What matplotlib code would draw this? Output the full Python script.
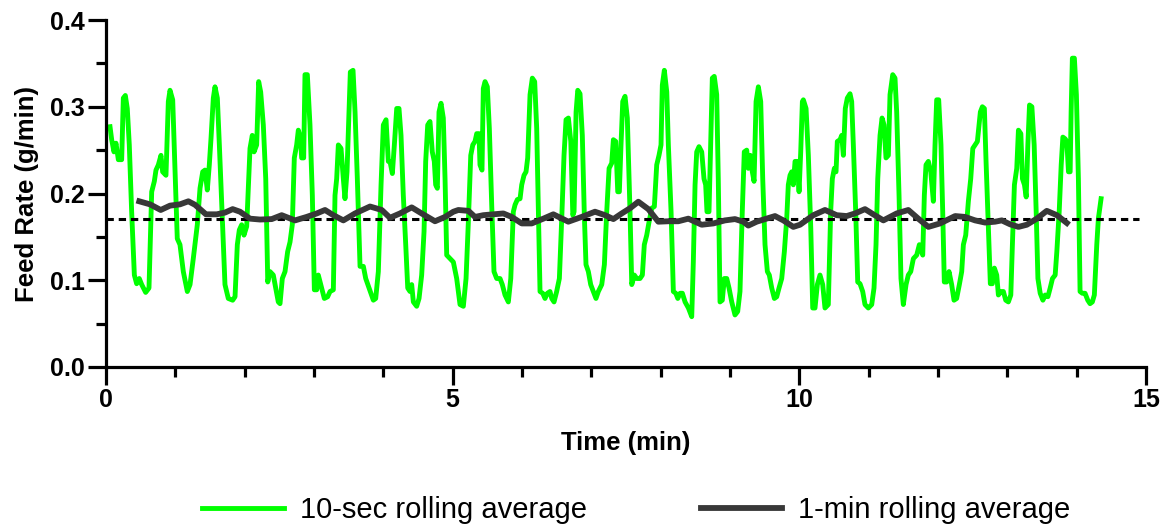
import numpy as np
import matplotlib
matplotlib.use('Agg')
import matplotlib.pyplot as plt

# 10-sec rolling average (time in min, feed rate in g/min)
t_10s = [0.058, 0.082, 0.115, 0.144, 0.178, 0.226, 0.250, 0.279, 0.307, 0.336,
         0.370, 0.409, 0.442, 0.480, 0.515, 0.572, 0.620, 0.659, 0.697, 0.721,
         0.755, 0.793, 0.817, 0.865, 0.899, 0.923, 0.962, 0.995, 1.028, 1.067,
         1.115, 1.173, 1.212, 1.259, 1.317, 1.356, 1.395, 1.428, 1.461, 1.490,
         1.515, 1.548, 1.572, 1.606, 1.635, 1.673, 1.716, 1.764, 1.827, 1.861,
         1.894, 1.923, 1.957, 1.990, 2.029, 2.077, 2.110, 2.135, 2.173, 2.202,
         2.231, 2.269, 2.304, 2.333, 2.365, 2.413, 2.485, 2.510, 2.543, 2.582,
         2.620, 2.654, 2.687, 2.716, 2.750, 2.774, 2.803, 2.822, 2.851, 2.870,
         2.904, 2.942, 2.976, 3.005, 3.039, 3.062, 3.111, 3.149, 3.197, 3.231,
         3.279, 3.303, 3.327, 3.351, 3.390, 3.423, 3.447, 3.476, 3.505, 3.524,
         3.563, 3.592, 3.625, 3.664, 3.712, 3.746, 3.794, 3.856, 3.890, 3.928,
         3.967, 4.000, 4.039, 4.072, 4.096, 4.130, 4.159, 4.193, 4.226, 4.255,
         4.288, 4.323, 4.352, 4.385, 4.409, 4.433, 4.481, 4.515, 4.553, 4.587,
         4.611, 4.640, 4.673, 4.706, 4.735, 4.755, 4.779, 4.803, 4.832, 4.865,
         4.890, 4.914, 4.962, 5.010, 5.058, 5.106, 5.154, 5.193, 5.226, 5.261,
         5.290, 5.322, 5.347, 5.380, 5.394, 5.423, 5.442, 5.467, 5.500, 5.529,
         5.563, 5.596, 5.635, 5.683, 5.716, 5.755, 5.803, 5.838, 5.875, 5.900,
         5.933, 5.972, 5.996, 6.029, 6.058, 6.082, 6.116, 6.149, 6.183, 6.212,
         6.236, 6.260, 6.299, 6.332, 6.366, 6.404, 6.429, 6.462, 6.500, 6.539,
         6.573, 6.606, 6.635, 6.669, 6.704, 6.733, 6.751, 6.780, 6.804, 6.837,
         6.870, 6.899, 6.923, 6.957, 6.991, 7.029, 7.067, 7.101, 7.150, 7.188,
         7.222, 7.256, 7.294, 7.318, 7.352, 7.381, 7.404, 7.428, 7.453, 7.486,
         7.519, 7.558, 7.583, 7.620, 7.655, 7.702, 7.736, 7.764, 7.799, 7.832,
         7.871, 7.909, 7.943, 7.976, 8.005, 8.024, 8.053, 8.088, 8.111, 8.150,
         8.183, 8.218, 8.247, 8.280, 8.313, 8.352, 8.400, 8.448, 8.471, 8.496,
         8.520, 8.553, 8.592, 8.625, 8.649, 8.668, 8.697, 8.721, 8.745, 8.773,
         8.808, 8.831, 8.856, 8.889, 8.918, 8.953, 8.986, 9.025, 9.072, 9.111,
         9.144, 9.177, 9.206, 9.241, 9.264, 9.293, 9.322, 9.347, 9.376, 9.409,
         9.443, 9.472, 9.505, 9.539, 9.567, 9.602, 9.640, 9.674, 9.707, 9.746,
         9.784, 9.818, 9.841, 9.866, 9.890, 9.913, 9.938, 9.971, 9.996, 10.020,
         10.044, 10.058, 10.097, 10.130, 10.165, 10.193, 10.226, 10.260, 10.298, 10.337,
         10.370, 10.418, 10.452, 10.476, 10.505, 10.529, 10.548, 10.587, 10.611, 10.635,
         10.663, 10.692, 10.731, 10.755, 10.779, 10.813, 10.842, 10.875, 10.914, 10.947,
         10.995, 11.044, 11.077, 11.106, 11.131, 11.164, 11.193, 11.222, 11.250, 11.284,
         11.308, 11.347, 11.380, 11.404, 11.438, 11.466, 11.500, 11.539, 11.572, 11.607,
         11.645, 11.693, 11.731, 11.780, 11.803, 11.827, 11.861, 11.896, 11.933, 11.957,
         11.981, 12.010, 12.043, 12.068, 12.091, 12.125, 12.159, 12.197, 12.231, 12.269,
         12.308, 12.342, 12.366, 12.400, 12.438, 12.472, 12.502, 12.535, 12.568, 12.611,
         12.640, 12.669, 12.693, 12.726, 12.755, 12.784, 12.813, 12.847, 12.871, 12.909,
         12.943, 12.977, 13.015, 13.050, 13.073, 13.102, 13.136, 13.160, 13.195, 13.218,
         13.247, 13.272, 13.296, 13.320, 13.354, 13.387, 13.416, 13.441, 13.474, 13.513,
         13.546, 13.585, 13.618, 13.651, 13.690, 13.714, 13.748, 13.777, 13.801, 13.834,
         13.858, 13.882, 13.906, 13.920, 13.938, 13.967, 13.996, 14.025, 14.049, 14.082,
         14.121, 14.160, 14.193, 14.226, 14.255, 14.290, 14.313, 14.352]
rate_10s = [0.277, 0.262, 0.248, 0.258, 0.239, 0.239, 0.310, 0.313, 0.298, 0.256,
            0.179, 0.106, 0.096, 0.102, 0.095, 0.086, 0.091, 0.202, 0.214, 0.227,
            0.233, 0.244, 0.225, 0.221, 0.306, 0.319, 0.308, 0.229, 0.148, 0.141,
            0.110, 0.087, 0.095, 0.125, 0.164, 0.206, 0.225, 0.227, 0.204, 0.233,
            0.264, 0.310, 0.323, 0.310, 0.256, 0.179, 0.095, 0.079, 0.077, 0.081,
            0.141, 0.158, 0.164, 0.152, 0.162, 0.252, 0.267, 0.248, 0.256, 0.329,
            0.317, 0.279, 0.217, 0.098, 0.110, 0.106, 0.075, 0.073, 0.102, 0.110,
            0.133, 0.144, 0.164, 0.241, 0.256, 0.273, 0.265, 0.241, 0.241, 0.337,
            0.337, 0.279, 0.198, 0.089, 0.089, 0.106, 0.091, 0.079, 0.081, 0.087,
            0.089, 0.198, 0.217, 0.256, 0.252, 0.217, 0.194, 0.225, 0.294, 0.340,
            0.342, 0.294, 0.217, 0.116, 0.116, 0.102, 0.091, 0.077, 0.079, 0.110,
            0.210, 0.279, 0.285, 0.237, 0.237, 0.223, 0.256, 0.298, 0.298, 0.267,
            0.198, 0.141, 0.091, 0.087, 0.095, 0.075, 0.070, 0.079, 0.106, 0.156,
            0.237, 0.279, 0.283, 0.248, 0.237, 0.210, 0.206, 0.294, 0.304, 0.287,
            0.217, 0.129, 0.125, 0.121, 0.102, 0.072, 0.070, 0.102, 0.167, 0.244,
            0.256, 0.260, 0.269, 0.269, 0.233, 0.227, 0.321, 0.329, 0.323, 0.275,
            0.187, 0.110, 0.102, 0.102, 0.095, 0.083, 0.075, 0.102, 0.179, 0.187,
            0.193, 0.194, 0.210, 0.221, 0.225, 0.241, 0.314, 0.333, 0.329, 0.275,
            0.179, 0.087, 0.085, 0.079, 0.085, 0.087, 0.079, 0.075, 0.087, 0.102,
            0.171, 0.244, 0.285, 0.287, 0.260, 0.175, 0.179, 0.294, 0.319, 0.315,
            0.267, 0.175, 0.118, 0.110, 0.095, 0.087, 0.079, 0.087, 0.095, 0.118,
            0.179, 0.229, 0.235, 0.262, 0.260, 0.202, 0.202, 0.256, 0.306, 0.312,
            0.287, 0.179, 0.095, 0.106, 0.102, 0.102, 0.106, 0.141, 0.152, 0.167,
            0.183, 0.185, 0.233, 0.244, 0.256, 0.325, 0.342, 0.317, 0.256, 0.179,
            0.087, 0.085, 0.079, 0.085, 0.085, 0.075, 0.068, 0.058, 0.121, 0.210,
            0.248, 0.254, 0.248, 0.217, 0.210, 0.179, 0.179, 0.256, 0.333, 0.335,
            0.314, 0.217, 0.075, 0.077, 0.102, 0.102, 0.091, 0.075, 0.060, 0.064,
            0.087, 0.179, 0.248, 0.250, 0.229, 0.244, 0.225, 0.214, 0.306, 0.323,
            0.306, 0.217, 0.141, 0.110, 0.106, 0.091, 0.079, 0.081, 0.091, 0.102,
            0.133, 0.171, 0.210, 0.221, 0.225, 0.210, 0.237, 0.237, 0.202, 0.248,
            0.306, 0.308, 0.298, 0.244, 0.160, 0.068, 0.068, 0.095, 0.106, 0.095,
            0.068, 0.072, 0.179, 0.217, 0.229, 0.225, 0.260, 0.262, 0.267, 0.244,
            0.298, 0.310, 0.315, 0.306, 0.256, 0.179, 0.098, 0.096, 0.087, 0.072,
            0.068, 0.072, 0.091, 0.141, 0.217, 0.267, 0.287, 0.279, 0.241, 0.244,
            0.314, 0.337, 0.333, 0.294, 0.198, 0.102, 0.072, 0.095, 0.106, 0.110,
            0.125, 0.129, 0.141, 0.129, 0.198, 0.233, 0.237, 0.225, 0.191, 0.256,
            0.308, 0.308, 0.256, 0.179, 0.098, 0.098, 0.110, 0.095, 0.077, 0.079,
            0.095, 0.110, 0.141, 0.152, 0.191, 0.217, 0.252, 0.256, 0.260, 0.294,
            0.300, 0.298, 0.237, 0.160, 0.096, 0.096, 0.114, 0.106, 0.083, 0.087,
            0.087, 0.077, 0.075, 0.083, 0.141, 0.210, 0.229, 0.273, 0.269, 0.217,
            0.210, 0.196, 0.256, 0.302, 0.300, 0.256, 0.179, 0.102, 0.085, 0.077,
            0.083, 0.081, 0.091, 0.102, 0.106, 0.133, 0.179, 0.233, 0.265, 0.263,
            0.260, 0.225, 0.225, 0.294, 0.356, 0.356, 0.314, 0.217, 0.087, 0.085,
            0.085, 0.077, 0.073, 0.075, 0.083, 0.141, 0.171, 0.194]

# 1-min rolling average
t_1min = [0.48, 0.635, 0.789, 0.923, 1.067, 1.188, 1.284, 1.442, 1.597, 1.716,
          1.827, 1.933, 2.077, 2.221, 2.39, 2.534, 2.726, 2.894, 3.039, 3.159,
          3.279, 3.423, 3.592, 3.808, 3.977, 4.096, 4.24, 4.409, 4.553, 4.745,
          4.89, 5.01, 5.082, 5.226, 5.322, 5.442, 5.587, 5.731, 5.851, 5.996,
          6.14, 6.308, 6.452, 6.668, 6.861, 7.053, 7.198, 7.318, 7.438, 7.558,
          7.678, 7.822, 7.966, 8.111, 8.255, 8.399, 8.592, 8.76, 8.928, 9.072,
          9.192, 9.264, 9.385, 9.505, 9.649, 9.769, 9.913, 10.01, 10.202, 10.37,
          10.539, 10.683, 10.803, 10.947, 11.067, 11.212, 11.404, 11.572, 11.716, 11.861,
          12.03, 12.247, 12.39, 12.535, 12.678, 12.823, 12.92, 13.04, 13.16, 13.281,
          13.425, 13.569, 13.714, 13.858]
rate_1min = [0.191, 0.1875, 0.181, 0.186, 0.1875, 0.191, 0.187, 0.176, 0.176, 0.178,
             0.182, 0.179, 0.171, 0.170, 0.1705, 0.175, 0.169, 0.173, 0.177, 0.181,
             0.175, 0.169, 0.177, 0.185, 0.181, 0.172, 0.177, 0.184, 0.177, 0.168,
             0.173, 0.179, 0.181, 0.180, 0.173, 0.175, 0.176, 0.177, 0.173, 0.1655,
             0.1655, 0.171, 0.176, 0.1675, 0.173, 0.179, 0.175, 0.1705, 0.177, 0.183,
             0.1905, 0.182, 0.1675, 0.168, 0.168, 0.171, 0.164, 0.1655, 0.169, 0.1705,
             0.1675, 0.163, 0.1675, 0.1705, 0.174, 0.169, 0.1615, 0.164, 0.175, 0.181,
             0.175, 0.174, 0.177, 0.182, 0.176, 0.169, 0.177, 0.181, 0.171, 0.1615,
             0.1655, 0.174, 0.173, 0.169, 0.1665, 0.1675, 0.169, 0.1645, 0.1615, 0.164,
             0.171, 0.180, 0.175, 0.166]

mean_rate = 0.171
mean_span = [0, 14.9]

plt.rcParams['font.family'] = ['Liberation Sans', 'DejaVu Sans']

fig = plt.figure(figsize=(11.7, 5.27), dpi=100)
ax = fig.add_axes([106 / 1170, 1 - 367 / 527, 1040 / 1170, 347 / 527])

ax.plot(t_10s, rate_10s, color='#00ff00', lw=3.5, label='10-sec rolling average',
        solid_joinstyle='round', zorder=2)
ax.hlines(mean_rate, mean_span[0], mean_span[1], colors='black', lw=2.2,
          linestyles=(0, (2.4, 1.6)), zorder=3)
ax.plot(t_1min, rate_1min, color='#383838', lw=4.2, label='1-min rolling average',
        solid_joinstyle='round', zorder=4)

ax.set_xlim(0, 15)
ax.set_ylim(0, 0.4)
ax.set_xticks([0, 5, 10, 15])
ax.set_xticks(np.arange(0, 16, 1), minor=True)
ax.set_yticks([0.0, 0.1, 0.2, 0.3, 0.4])
ax.set_yticks(np.arange(0, 0.41, 0.05), minor=True)
ax.set_yticklabels(['0.0', '0.1', '0.2', '0.3', '0.4'])

for side in ['top', 'right']:
    ax.spines[side].set_visible(False)
for side in ['left', 'bottom']:
    ax.spines[side].set_linewidth(2.3)

ax.tick_params(which='major', length=13, width=2.3, direction='out', pad=2,
               labelsize=18)
ax.tick_params(which='minor', length=7, width=2.3, direction='out')
for lab in ax.get_xticklabels() + ax.get_yticklabels():
    lab.set_fontweight('bold')

ax.set_xlabel('Time (min)', fontsize=18.5, fontweight='bold', labelpad=14)
ax.set_ylabel('Feed Rate (g/min)', fontsize=18.5, fontweight='bold', labelpad=8)

fig.legend(loc='center', bbox_to_anchor=(0.544, 17 / 527), ncol=2, frameon=False,
           fontsize=21, handlelength=2.8, handletextpad=0.55, columnspacing=3.9)

fig.savefig('out.png', dpi=100)
